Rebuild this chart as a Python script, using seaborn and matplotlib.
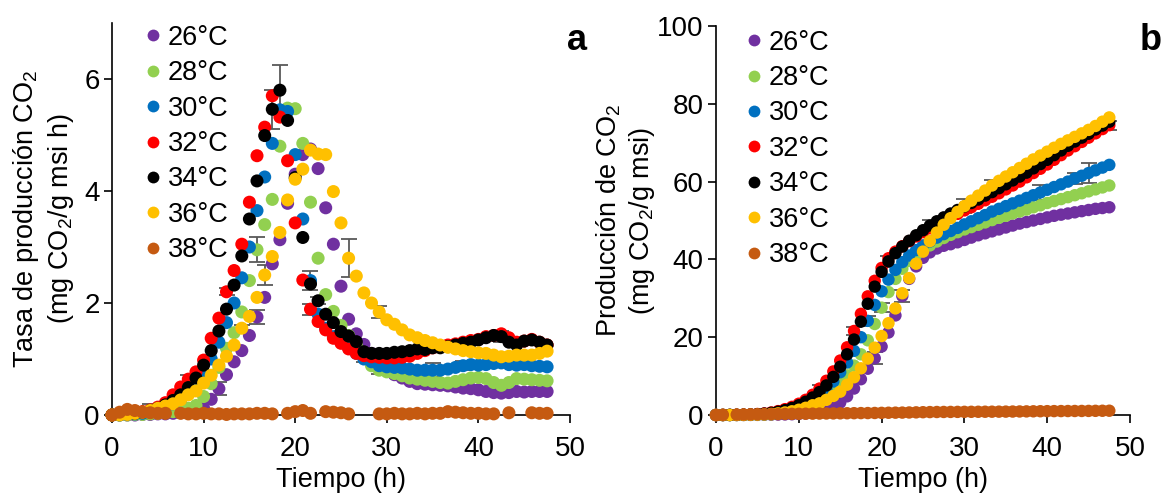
import numpy as np
import pandas as pd
import matplotlib
matplotlib.use("Agg")
import matplotlib.pyplot as plt
from matplotlib.lines import Line2D
import seaborn as sns

sns.set_style("ticks")
plt.rcParams["font.family"] = ["Liberation Sans", "DejaVu Sans"]
plt.rcParams["mathtext.fontset"] = "custom"
plt.rcParams["mathtext.rm"] = "Liberation Sans"
plt.rcParams["mathtext.it"] = "Liberation Sans:italic"
plt.rcParams["mathtext.bf"] = "Liberation Sans:bold"
plt.rcParams["text.color"] = "black"
plt.rcParams["axes.labelcolor"] = "black"
plt.rcParams["xtick.color"] = "black"
plt.rcParams["ytick.color"] = "black"

nan = np.nan

# ---------------- data ----------------
time_h = [0.0, 0.83, 1.67, 2.5, 3.33, 4.17, 5.0, 5.83, 6.67, 7.5, 8.33, 9.17, 10.0, 10.83,
          11.67, 12.5, 13.33, 14.17, 15.0, 15.83, 16.67, 17.5, 18.33, 19.17, 20.0, 20.83,
          21.67, 22.5, 23.33, 24.17, 25.0, 25.83, 26.67, 27.5, 28.33, 29.17, 30.0, 30.83,
          31.67, 32.5, 33.33, 34.17, 35.0, 35.83, 36.67, 37.5, 38.33, 39.17, 40.0, 40.83,
          41.67, 42.5, 43.33, 44.17, 45.0, 45.83, 46.67, 47.5]

temps = ["26°C", "28°C", "30°C", "32°C", "34°C", "36°C", "38°C"]
colors = ["#7030A0", "#92D050", "#0070C0", "#FF0000", "#000000", "#FFC000", "#C55A11"]

# Panel a: CO2 production rate (mg CO2/g msi h)
rate_26 = [0, 0, 0, 0, 0.01, 0.01, 0.02, 0.02, 0.03, 0.04, 0.05, 0.08, 0.12, 0.28, 0.47, 0.72,
           0.95, 1.15, 1.42, 1.75, 2.1, 2.7, 3.13, 3.78, 4.3, 4.65, 4.75, 4.4, 3.7, 3.05, 2.3,
           1.71, 1.45, 1.26, 1.1, 0.95, 0.8, 0.72, 0.66, 0.6, 0.56, 0.55, 0.54, 0.53, 0.52,
           0.5, 0.48, 0.47, 0.45, 0.42, 0.4, 0.39, 0.4, 0.42, 0.41, 0.42, 0.42, 0.42]
rate_28 = [0, 0, 0, 0.01, 0.01, 0.02, 0.03, 0.04, 0.06, 0.09, 0.12, 0.17, 0.33, 0.56, 0.85,
           1.19, 1.47, 1.84, 2.4, 2.95, 3.4, 3.85, 4.8, 5.48, 5.47, 4.85, 3.8, 2.8, 2.15, 1.85,
           1.6, 1.42, 1.25, 1.05, 0.88, 0.8, 0.77, 0.74, 0.7, 0.66, 0.64, 0.62, 0.6, 0.58,
           0.57, 0.6, 0.63, 0.66, 0.67, 0.65, 0.58, 0.53, 0.58, 0.65, 0.64, 0.63, 0.62, 0.61]
rate_30 = [0, 0, 0.01, 0.02, 0.03, 0.05, 0.08, 0.13, 0.2, 0.28, 0.4, 0.55, 0.75, 1.0, 1.3,
           1.65, 2.0, 2.45, 3.0, 3.65, 4.25, 4.85, 5.45, 5.42, 4.65, 3.5, 2.4, 1.8, 1.55, 1.4,
           1.3, 1.2, 1.1, 1.0, 0.95, 0.88, 0.86, 0.85, 0.84, 0.82, 0.8, 0.8, 0.8, 0.8, 0.82,
           0.85, 0.88, 0.9, 0.89, 0.9, 0.92, 0.93, 0.9, 0.89, 0.9, 0.88, 0.87, 0.86]
rate_32 = [0, 0.01, 0.02, 0.04, 0.06, 0.09, 0.14, 0.22, 0.36, 0.5, 0.64, 0.77, 0.98, 1.37,
           1.73, 2.2, 2.58, 3.05, 3.8, 4.63, 5.14, 5.7, 5.32, 4.54, 3.43, 2.41, 1.89, 1.67,
           1.52, 1.37, 1.28, 1.18, 1.1, 1.06, 1.04, 1.03, 1.02, 1.02, 1.03, 1.05, 1.1, 1.15,
           1.2, 1.22, 1.25, 1.27, 1.3, 1.33, 1.35, 1.4, 1.42, 1.45, 1.38, 1.3, 1.32, 1.35,
           1.3, 1.25]
rate_34 = [0, 0.01, 0.02, 0.03, 0.05, 0.08, 0.12, 0.18, 0.26, 0.36, 0.49, 0.66, 0.89, 1.15,
           1.5, 1.89, 2.32, 2.84, 3.5, 4.18, 4.99, 5.46, 5.8, 5.26, 4.24, 3.17, 2.34, 2.04,
           1.8, 1.65, 1.49, 1.41, 1.31, 1.13, 1.1, 1.1, 1.1, 1.12, 1.13, 1.15, 1.18, 1.17,
           1.2, 1.2, 1.22, 1.25, 1.28, 1.3, 1.34, 1.38, 1.42, 1.4, 1.3, 1.25, 1.32, 1.34,
           1.3, 1.25]
rate_36 = [0, 0, 0.01, 0.03, 0.05, 0.08, 0.12, 0.16, 0.2, 0.27, 0.36, 0.43, 0.57, 0.71, 0.89,
           1.05, 1.25, 1.55, 1.76, 2.1, 2.5, 2.83, 3.26, 3.84, 4.21, 4.39, 4.73, 4.66, 4.65,
           3.99, 3.43, 2.8, 2.48, 2.18, 2.0, 1.84, 1.7, 1.62, 1.52, 1.43, 1.38, 1.33, 1.29,
           1.25, 1.21, 1.18, 1.15, 1.13, 1.11, 1.1, 1.07, 1.04, 1.05, 1.07, 1.07, 1.07, 1.1,
           1.14]
rate_38 = [0.0, 0.05, 0.1, 0.08, 0.05, 0.04, 0.03, 0.03, nan, 0.03, 0.02, 0.02, 0.03, 0.02,
           0.02, 0.01, 0.02, 0.02, 0.02, 0.03, 0.03, 0.02, nan, 0.03, 0.06, 0.08, 0.03, nan,
           0.06, 0.05, 0.04, 0.02, nan, nan, nan, 0.02, 0.02, 0.03, 0.02, 0.02, 0.03, 0.02,
           0.03, 0.03, 0.06, 0.05, 0.04, 0.03, 0.03, 0.02, 0.02, nan, 0.04, nan, nan, 0.04,
           0.03, 0.03]

# Panel b: cumulative CO2 production (mg CO2/g msi)
cum_26 = [0, 0, 0, 0, 0.01, 0.02, 0.03, 0.05, 0.08, 0.11, 0.15, 0.2, 0.28, 0.4, 0.55, 0.85,
          1.3, 2.1, 3.2, 4.8, 6.8, 9.2, 11.9, 14.6, 17.6, 21.2, 25.6, 30.6, 35.0, 38.2, 40.4,
          41.8, 42.8, 43.5, 43.9, 44.4, 45.0, 45.6, 46.2, 46.7, 47.2, 47.7, 48.2, 48.7, 49.2,
          49.6, 50.0, 50.4, 50.8, 51.2, 51.5, 51.8, 52.1, 52.4, 52.7, 53.0, 53.2, 53.4]
cum_28 = [0, 0, 0, 0.01, 0.02, 0.04, 0.07, 0.11, 0.17, 0.35, 0.55, 0.9, 1.4, 2.0, 2.8, 3.7,
          4.8, 6.2, 8.0, 10.2, 12.7, 15.6, 19.2, 23.4, 27.6, 31.6, 35.0, 37.6, 39.6, 41.2,
          42.5, 43.6, 44.6, 45.5, 46.3, 47.0, 47.7, 48.3, 48.9, 49.5, 50.1, 50.7, 51.2, 51.8,
          52.3, 52.8, 53.4, 53.9, 54.5, 55.0, 55.5, 56.0, 56.5, 57.0, 57.5, 58.0, 58.5, 59.0]
cum_30 = [0, 0, 0.01, 0.02, 0.04, 0.07, 0.12, 0.2, 0.32, 0.5, 0.8, 1.2, 1.8, 2.6, 3.6, 5.0,
          6.6, 8.6, 11.0, 13.5, 16.5, 20.0, 24.2, 28.3, 31.8, 34.8, 37.3, 39.3, 41.0, 42.4,
          43.6, 44.6, 45.6, 46.5, 47.3, 48.1, 49.0, 49.8, 50.6, 51.4, 52.3, 53.0, 53.7, 54.4,
          55.1, 55.8, 56.5, 57.2, 57.9, 58.6, 59.3, 60.0, 60.8, 61.5, 62.2, 62.9, 63.6, 64.3]
cum_32 = [0, 0.01, 0.02, 0.05, 0.09, 0.15, 0.25, 0.4, 0.65, 1.0, 1.5, 2.1, 2.9, 3.9, 5.2, 6.8,
          8.8, 11.2, 14.0, 17.4, 21.6, 26.0, 30.5, 34.5, 37.8, 40.3, 42.0, 43.4, 44.7, 45.9,
          47.0, 48.0, 49.0, 49.9, 50.8, 51.7, 52.6, 53.4, 54.3, 55.2, 56.1, 57.0, 58.0, 59.0,
          60.0, 61.1, 62.2, 63.3, 64.4, 65.6, 66.8, 68.0, 69.1, 70.2, 71.3, 72.4, 73.5, 74.5]
cum_34 = [0, 0.01, 0.02, 0.04, 0.08, 0.13, 0.22, 0.35, 0.55, 0.85, 1.25, 1.8, 2.5, 3.4, 4.5,
          5.9, 7.6, 9.8, 12.4, 15.6, 19.4, 24.0, 28.6, 33.0, 36.8, 39.5, 41.6, 43.3, 44.8,
          46.2, 47.5, 48.7, 49.8, 50.8, 51.8, 52.7, 53.6, 54.5, 55.4, 56.4, 57.3, 58.3, 59.3,
          60.3, 61.3, 62.3, 63.4, 64.5, 65.6, 66.8, 68.0, 69.2, 70.3, 71.3, 72.3, 73.4, 74.4,
          75.4]
cum_36 = [0, 0, 0, 0.01, 0.03, 0.06, 0.1, 0.17, 0.27, 0.42, 0.65, 0.95, 1.35, 1.85, 2.5, 3.0,
          3.9, 4.9, 6.0, 7.8, 9.7, 12.0, 14.5, 17.3, 20.3, 23.6, 27.4, 31.3, 35.2, 38.9, 42.0,
          44.7, 46.9, 48.9, 50.6, 52.2, 53.7, 55.1, 56.4, 57.7, 59.0, 60.2, 61.3, 62.4, 63.5,
          64.6, 65.7, 66.7, 67.7, 68.7, 69.7, 70.6, 71.5, 72.4, 73.3, 74.3, 75.4, 76.5]
cum_38 = [0.0, 0.05, nan, 0.1, 0.12, 0.15, 0.17, 0.2, 0.22, 0.24, 0.27, 0.29, 0.31, 0.33,
          0.35, 0.37, 0.39, 0.41, 0.43, 0.45, 0.47, 0.49, 0.5, 0.52, 0.55, 0.58, 0.6, 0.62,
          0.65, 0.68, 0.72, 0.75, 0.77, 0.78, 0.79, 0.8, 0.81, 0.82, 0.83, 0.84, 0.85, 0.86,
          0.87, 0.89, 0.91, 0.93, 0.95, 0.97, 0.99, 1.0, 1.01, 1.02, 1.03, 1.04, 1.05, 1.07,
          1.09, 1.1]

# sparse error bars: (series, time index, +/- error)
err_a_series = ["34°C", "34°C", "28°C", "36°C", "36°C", "32°C", "26°C", "32°C", "30°C",
                "32°C", "34°C", "36°C", "30°C", "30°C", "34°C", "28°C", "26°C", "36°C",
                "32°C", "36°C"]
err_a_index = [22, 21, 19, 20, 31, 15, 14, 10, 26, 26, 27, 35, 42, 46, 51, 35, 19, 17, 33, 5]
err_a_value = [0.45, 0.35, 0.22, 0.18, 0.34, 0.06, 0.12, 0.08, 0.17, 0.1, 0.06, 0.1, 0.12,
               0.08, 0.1, 0.06, 0.12, 0.06, 0.12, 0.12]

err_b_series = ["32°C", "32°C", "26°C", "26°C", "34°C", "34°C", "30°C", "30°C", "32°C",
                "34°C", "30°C", "28°C", "36°C", "30°C"]
err_b_index = [20, 15, 23, 27, 31, 36, 47, 54, 57, 25, 22, 24, 40, 52]
err_b_value = [1.0, 0.8, 1.5, 1.5, 1.5, 1.8, 2.0, 2.5, 1.2, 1.5, 1.2, 1.2, 1.5, 1.5]

rates = [rate_26, rate_28, rate_30, rate_32, rate_34, rate_36, rate_38]
cums = [cum_26, cum_28, cum_30, cum_32, cum_34, cum_36, cum_38]


def long_df(series_list):
    frames = [pd.DataFrame({"t": time_h, "v": vals, "temp": lab})
              for lab, vals in zip(temps, series_list)]
    return pd.concat(frames, ignore_index=True).dropna()


# ---------------- figure ----------------
W, H = 1167, 498
fig = plt.figure(figsize=(W / 100, H / 100), dpi=100)
axa = fig.add_axes([112 / W, 83 / H, 458 / W, 392 / H])
axb = fig.add_axes([716 / W, 83 / H, 414 / W, 389 / H])

grey = "#595959"


def draw(ax, series_list, es, ei, ev, ylim, yticks, ylabel, msize, ylpad, leg_y):
    # error bars underneath markers
    for s, i, e in zip(es, ei, ev):
        vals = series_list[temps.index(s)]
        ax.errorbar(time_h[i], vals[i], yerr=e, fmt="none", ecolor=grey,
                    elinewidth=1.3, capsize=5.5, capthick=1.3, zorder=2)
    df = long_df(series_list)
    sns.scatterplot(data=df, x="t", y="v", hue="temp", hue_order=temps,
                    palette=colors, s=msize, linewidth=0, edgecolor="none",
                    legend=False, ax=ax, zorder=3, clip_on=False)
    ax.set_xlim(0, 50)
    ax.set_ylim(*ylim)
    ax.set_xticks([0, 10, 20, 30, 40, 50])
    ax.set_yticks(yticks)
    ax.set_xlabel("Tiempo (h)", fontsize=19.5, labelpad=4, color="black")
    ax.set_ylabel(ylabel, fontsize=19.5, labelpad=ylpad, color="black")
    for side in ["top", "right"]:
        ax.spines[side].set_visible(False)
    for side in ["left", "bottom"]:
        ax.spines[side].set_linewidth(1.2)
        ax.spines[side].set_color("black")
    ax.tick_params(direction="out", length=6, width=1.2, labelsize=20,
                   colors="black", labelcolor="black")
    ax.tick_params(axis="x", pad=9)
    ax.tick_params(axis="y", pad=3)
    handles = [Line2D([], [], marker="o", ls="", color=c, markersize=8.5,
                      markeredgewidth=0) for c in colors]
    leg = ax.legend(handles, temps, loc="upper left", bbox_to_anchor=(0.072, leg_y),
                    frameon=False, fontsize=19.5, handlelength=0.6, handletextpad=0.25,
                    labelspacing=0.35, borderpad=0, borderaxespad=0)
    for txt in leg.get_texts():
        txt.set_color("black")


draw(axa, rates, err_a_series, err_a_index, err_a_value, (0, 7), [0, 2, 4, 6],
     "Tasa de producción CO$_2$\n(mg CO$_2$/g msi h)", 88, 6, 0.996)
draw(axb, cums, err_b_series, err_b_index, err_b_value, (0, 100),
     [0, 20, 40, 60, 80, 100], "Producción de CO$_2$\n(mg CO$_2$/g msi)", 80, 0, 0.991)

fig.text(577 / W, 1 - 40 / H, "a", fontsize=26, fontweight="bold", ha="center",
         va="center", color="black")
fig.text(1151 / W, 1 - 40 / H, "b", fontsize=26, fontweight="bold", ha="center",
         va="center", color="black")

fig.savefig("out.png", dpi=100)
